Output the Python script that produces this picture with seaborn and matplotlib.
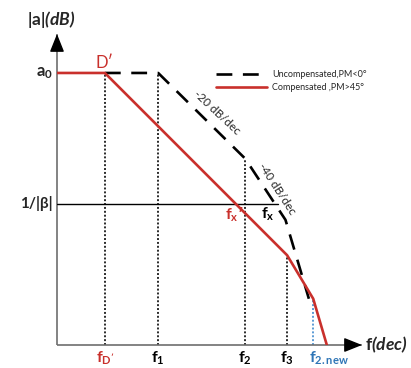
import matplotlib
matplotlib.use("Agg")
import matplotlib.pyplot as plt
import seaborn as sns
import pandas as pd
from matplotlib.lines import Line2D

# Asymptotic Bode magnitude plots: x in decades of frequency, y in dB
uncomp_f = [0.88, 1.86, 3.46, 4.20, 4.63]
uncomp_db = [100, 100, 68.5, 46, 17]
comp_f = [0.0, 0.88, 4.23, 4.71, 4.96]
comp_db = [100, 100, 33, 17, 0]

# Corner frequencies marked on the frequency axis
corner_labels = [r"$\mathbf{f}_{\mathbf{D'}}$", r"$\mathbf{f}_{\mathbf{1}}$",
                 r"$\mathbf{f}_{\mathbf{2}}$", r"$\mathbf{f}_{\mathbf{3}}$",
                 r"$\mathbf{f}_{\mathbf{2.new}}$"]
corner_f = [0.88, 1.86, 3.46, 4.23, 4.71]
corner_db = [100, 100, 68.5, 33, 17]
a0_db = 100
inv_beta_db = 52
inv_beta_end = 4.06

RED = "#c9302c"
BLUE = "#2e75b6"
LBLUE = "#5b9bd5"
AXC = "#6e6e6e"

sns.set_theme(style="white")
plt.rcParams["font.family"] = ["Lato", "DejaVu Sans"]
plt.rcParams["mathtext.fontset"] = "custom"
plt.rcParams["mathtext.rm"] = "Lato"
plt.rcParams["mathtext.bf"] = "Lato:bold"
plt.rcParams["mathtext.it"] = "Lato:italic"
plt.rcParams["mathtext.bfit"] = "Lato:bold:italic"

W, H = 411, 368
fig = plt.figure(figsize=(W / 100, H / 100), dpi=100)
fig.patch.set_facecolor("white")
x0, x1, y0, y1 = 57, 362, 345, 34
ax = fig.add_axes([x0 / W, (H - y0) / H, (x1 - x0) / W, (y0 - y1) / H])
px_per_dec = 54.4
db_per_px = 0.3676
xmax = (x1 - x0) / px_per_dec
ymax = (y0 - y1) * db_per_px
ax.set_xlim(0, xmax)
ax.set_ylim(0, ymax)
for s in ax.spines.values():
    s.set_visible(False)
ax.set_xticks([])
ax.set_yticks([])
ax.set_facecolor("white")

# Axes drawn as arrows
ax.plot([0, xmax], [0, 0], color=AXC, lw=1.2, clip_on=False, solid_capstyle="butt")
ax.plot([0, 0], [0, ymax], color=AXC, lw=1.2, clip_on=False, solid_capstyle="butt")
head = dict(arrowstyle="-|>,head_length=0.55,head_width=0.22", color="black",
            shrinkA=0, shrinkB=0, mutation_scale=20)
ax.annotate("", xy=(xmax, 0), xytext=(xmax - 0.2, 0), arrowprops=head, annotation_clip=False)
ax.annotate("", xy=(0, ymax), xytext=(0, ymax - 4), arrowprops=head, annotation_clip=False)

# Dotted guides from each corner down to the frequency axis
for i, (f, d) in enumerate(zip(corner_f, corner_db)):
    c = LBLUE if i == len(corner_f) - 1 else "#2a2a2a"
    ax.plot([f, f], [0, d], color=c, lw=1.4, linestyle=(0, (1, 1)), zorder=1)

# Loop-gain level 1/|beta|
ax.plot([0, inv_beta_end], [inv_beta_db, inv_beta_db], color="black", lw=1.0, zorder=2)

df_u = pd.DataFrame({"f": uncomp_f, "db": uncomp_db})
df_c = pd.DataFrame({"f": comp_f, "db": comp_db})
sns.lineplot(data=df_u, x="f", y="db", ax=ax, color="black", lw=1.9,
             linestyle=(0, (6, 4)), estimator=None, sort=False, zorder=3)
sns.lineplot(data=df_c, x="f", y="db", ax=ax, color=RED, lw=1.9,
             estimator=None, sort=False, zorder=4)
ax.set_xlabel("")
ax.set_ylabel("")

handles = [Line2D([], [], color="black", lw=1.9, linestyle=(0, (6, 4))),
           Line2D([], [], color=RED, lw=1.9)]
ax.legend(handles, ["Uncompensated,PM<0°", "Compensated ,PM>45°"],
          loc="upper left", bbox_to_anchor=(216 / W, 1 - 70 / H),
          bbox_transform=fig.transFigure, frameon=False, fontsize=6.5,
          handlelength=5.6, handletextpad=0.6, labelspacing=0.45,
          borderpad=0, borderaxespad=0)

# Axis titles
ax.text(-0.11, 119.5, r"$\mathbf{|a|}\mathbfit{(dB)}$", fontsize=12.5,
        ha="center", va="center", clip_on=False)
ax.text(xmax + 0.05, 0, r"$\mathbf{f}\mathbfit{(dec)}$", fontsize=12.5,
        ha="left", va="center", clip_on=False)

# Level labels
ax.text(-0.08, a0_db, r"$\mathbf{a}_{\mathbf{0}}$", fontsize=12,
        ha="right", va="center", clip_on=False)
ax.text(-0.08, inv_beta_db, "1/|β|", fontsize=11, fontweight="bold",
        ha="right", va="center", clip_on=False)
ax.text(corner_f[0], a0_db + 3.8, "D′", fontsize=12, color=RED,
        ha="center", va="center")

# Frequency labels
label_colors = [RED, "black", "black", "black", BLUE]
for i, (lab, f, c) in enumerate(zip(corner_labels, corner_f, label_colors)):
    ha = "left" if i == len(corner_f) - 1 else "center"
    xx = f - 0.08 if ha == "left" else f
    ax.text(xx, -4.8, lab, fontsize=11.5, color=c, ha=ha, va="center", clip_on=False)

# Crossover labels
ax.text(3.25, 48.0, r"$\mathbf{f}_{\mathbf{x}}$" + "\u2032", fontsize=11.5, color=RED,
        fontweight="bold", ha="center", va="center", zorder=6)
ax.text(3.88, 48.0, r"$\mathbf{f}_{\mathbf{x}}$", fontsize=11.5, color="black",
        ha="center", va="center", zorder=6)

# Slope annotations
ax.text(2.94, 85.3, "-20 dB/dec", fontsize=8.5, rotation=-43,
        ha="center", va="center", rotation_mode="anchor")
ax.text(4.04, 57.3, "-40 dB/dec", fontsize=8.5, rotation=-57,
        ha="center", va="center", rotation_mode="anchor")

fig.savefig("out.png", dpi=100, facecolor="white")
